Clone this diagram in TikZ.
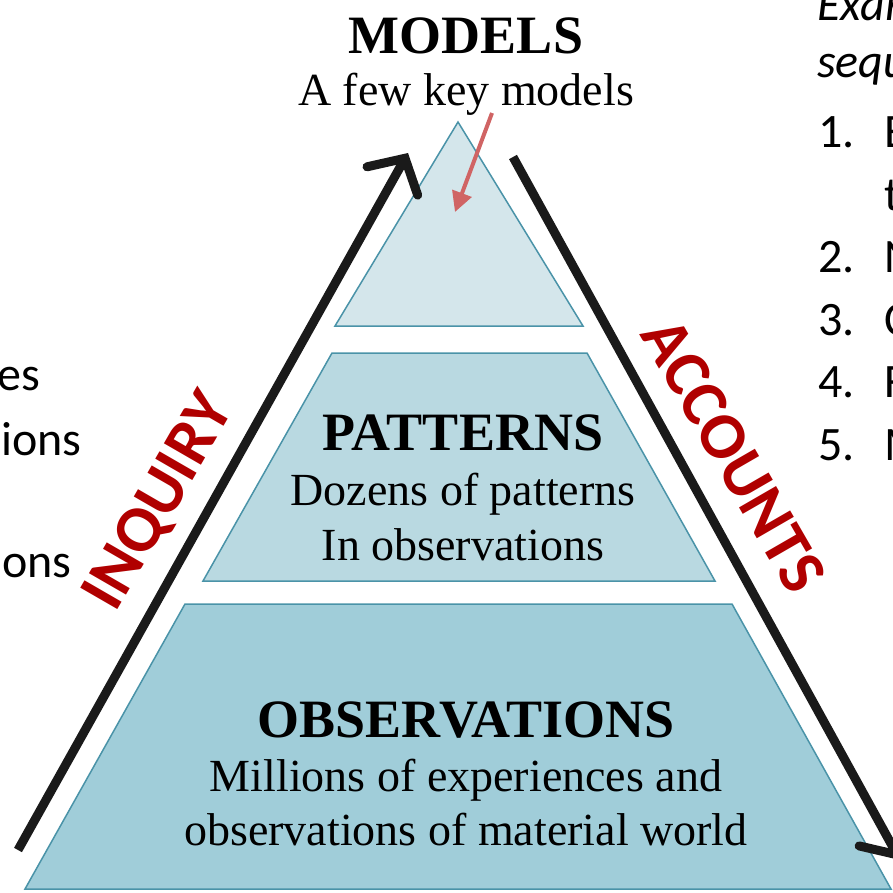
\documentclass[tikz,border=0pt]{standalone}
\usepackage{fontspec}
\setmainfont{Liberation Serif}
\setsansfont{Carlito}
\usetikzlibrary{arrows.meta}
\definecolor{tealline}{RGB}{74,147,168}
\definecolor{topfill}{RGB}{212,230,235}
\definecolor{midfill}{RGB}{185,217,225}
\definecolor{lowfill}{RGB}{160,205,217}
\definecolor{darkred}{RGB}{176,0,0}
\definecolor{pinkred}{RGB}{208,100,100}
\definecolor{arrowblack}{RGB}{26,26,26}
\begin{document}
\begin{tikzpicture}[x=1pt,y=-1pt,
    layer/.style={draw=tealline,line width=1.5pt},
    title/.style={anchor=base,inner sep=0pt,font=\bfseries\fontsize{54}{60}\selectfont},
    sub/.style={anchor=base,inner sep=0pt,font=\fontsize{46}{54}\selectfont},
    side/.style={text=darkred,inner sep=0pt,font=\sffamily\bfseries\fontsize{66}{66}\selectfont},
    list/.style={anchor=base west,inner sep=0pt,font=\sffamily\fontsize{48}{58}\selectfont},
    flow/.style={draw=arrowblack,line width=9pt,
      -{Straight Barb[length=26pt,width=58pt,line cap=round]}}]
  \useasboundingbox (0,0) rectangle (893,892);
  \clip (0,0) rectangle (893,892);

  % corners of the three layers
  \coordinate (apex) at (458,122);
  \coordinate (topL) at (335,326);
  \coordinate (topR) at (583,326);
  \coordinate (midTL) at (332,353);
  \coordinate (midTR) at (587,353);
  \coordinate (midBL) at (203,581);
  \coordinate (midBR) at (715,581);
  \coordinate (lowTL) at (185,604);
  \coordinate (lowTR) at (732,604);
  \coordinate (lowBL) at (25,889);
  \coordinate (lowBR) at (891,889);

  \filldraw[layer,fill=topfill] (apex) -- (topL) -- (topR) -- cycle;
  \filldraw[layer,fill=midfill] (midTL) -- (midBL) -- (midBR) -- (midTR) -- cycle;
  \filldraw[layer,fill=lowfill] (lowTL) -- (lowBL) -- (lowBR) -- (lowTR) -- cycle;

  % labels
  \node[title] (models) at (466,53) {MODELS};
  \node[sub] (modelsub) at (466,105) {A few key models};
  \node[title] (patterns) at (463,450) {PATTERNS};
  \node[sub] (pat1) at (463,505) {Dozens of patterns};
  \node[sub] (pat2) at (463,560) {In observations};
  \node[title] (obs) at (466,737) {OBSERVATIONS};
  \node[sub] (obs1) at (466,791) {Millions of experiences and};
  \node[sub] (obs2) at (466,845) {observations of material world};

  % arrows along the sides
  \coordinate (inqS) at (18,850);
  \coordinate (inqE) at (408,153);
  \coordinate (accS) at (513,157);
  \coordinate (accE) at (900,860);
  \draw[flow] (inqS) -- (inqE);
  \draw[flow] (accS) -- (accE);
  \node[side,rotate=60] (inquiry) at (160,502) {INQUIRY};
  \node[side,rotate=-60] (accounts) at (734,455) {ACCOUNTS};

  \coordinate (keyS) at (492,113);
  \coordinate (keyE) at (455,212);
  \draw[draw=pinkred,line width=4pt,-{Triangle[length=20pt,width=20pt]}] (keyS) -- (keyE);

  % text running in from the left
  \node[list,anchor=base east] (l1) at (40,390) {es};
  \node[list,anchor=base east] (l2) at (82,455) {ions};
  \node[list,anchor=base east] (l3) at (72,577) {ons};

  % list running out on the right
  \node[list] (r0) at (817,20) {\itshape Exam};
  \node[list] (r1) at (817,77) {\itshape sequ};
  \node[list] (n1) at (818,147) {1.};
  \node[list] (t1) at (884,147) {E};
  \node[list] (t1b) at (884,210) {t};
  \node[list] (n2) at (818,272) {2.};
  \node[list] (t2) at (884,272) {N};
  \node[list] (n3) at (818,335) {3.};
  \node[list] (t3) at (884,335) {C};
  \node[list] (n4) at (818,397) {4.};
  \node[list] (t4) at (884,397) {F};
  \node[list] (n5) at (818,460) {5.};
  \node[list] (t5) at (884,460) {M};
\end{tikzpicture}
\end{document}
